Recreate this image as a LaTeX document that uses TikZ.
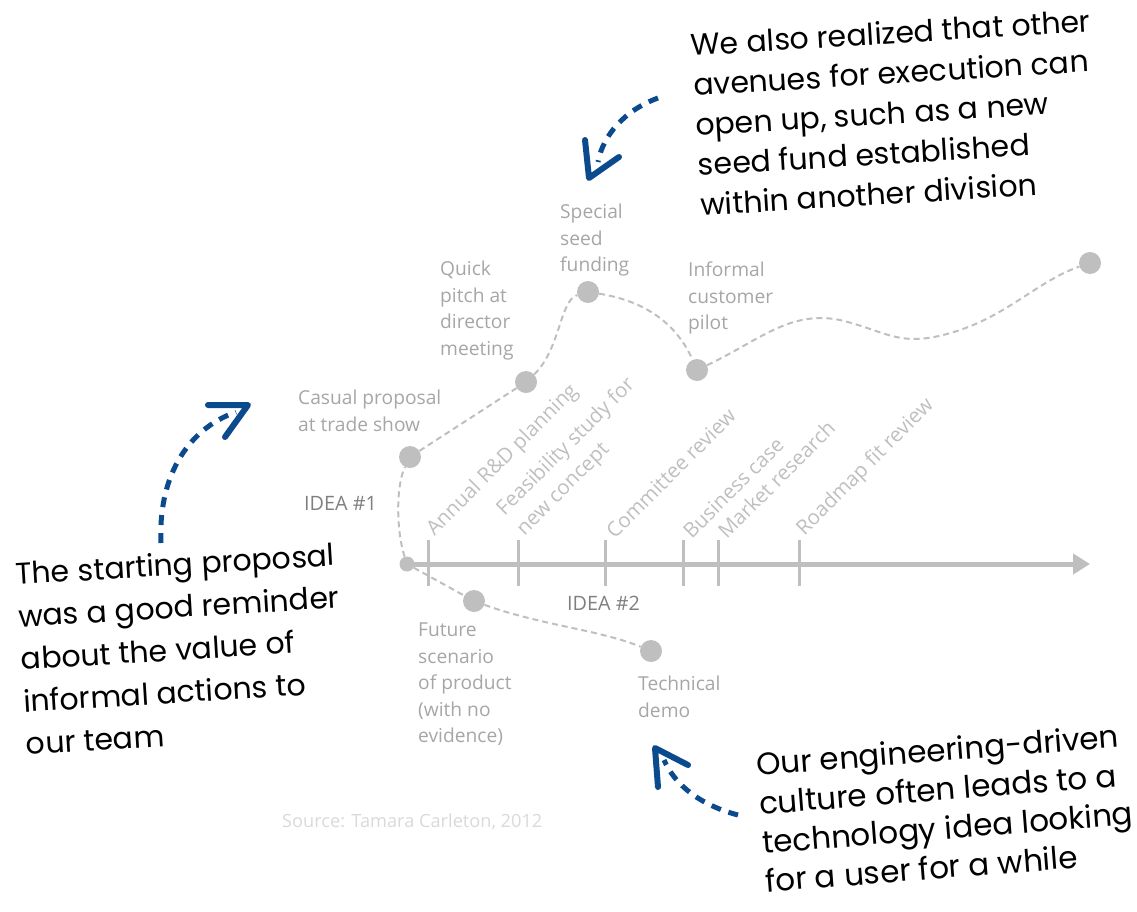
\documentclass[tikz,border=0pt]{standalone}
\usepackage{fontspec}
\setmainfont{Open Sans}
\newfontfamily\hand{Poppins}
\usetikzlibrary{arrows.meta}
\definecolor{lg}{HTML}{BFBFBF}
\definecolor{lbl}{HTML}{A6A6A6}
\definecolor{dk}{HTML}{7F7F7F}
\definecolor{src}{HTML}{D9D9D9}
\definecolor{blu}{HTML}{0B4A8C}
\begin{document}
\begin{tikzpicture}[x=1pt,y=-1pt,
  dot/.style={circle, fill=lg, minimum size=22pt, inner sep=0pt},
  sdot/.style={circle, fill=lg, minimum size=15pt, inner sep=0pt},
  route/.style={lg, line width=2pt, dash pattern=on 6pt off 4pt},
  lbl/.style={text=lbl, font=\fontsize{19.2}{26.5}\selectfont, align=left, inner sep=0pt, anchor=north west},
  idea/.style={text=dk, font=\fontsize{19.8}{24}\selectfont, inner sep=0pt, anchor=north west},
  rlab/.style={text=lg, font=\fontsize{20.5}{28}\selectfont, align=left, inner sep=0pt, rotate=45, anchor=south west},
  note/.style={font=\hand\fontsize{30}{40}\selectfont, align=left, inner sep=0pt, anchor=north west},
  bdash/.style={blu, line width=5pt, dash pattern=on 10pt off 8pt},
  bhead/.style={blu, line width=6pt, line cap=round, line join=round},
  tick/.style={lg, line width=3pt}]
\useasboundingbox (0,0) rectangle (1137,911);

% timeline
\coordinate (ax0) at (408,564);
\coordinate (ax1) at (1090,564);
\draw[lg, line width=5pt, -{Triangle[length=17pt,width=20pt]}] (ax0) -- (ax1);
\foreach \x/\n in {428/a,518/b,605/c,683/d,718/e,799/f}{
  \coordinate (t\n a) at (\x,540);
  \coordinate (t\n b) at (\x,586);
  \draw[tick] (t\n a) -- (t\n b);
}

% rotated labels
\node[rlab] (la) at (438,540) {Annual R\&D planning};
\node[rlab] (lb) at (528,540) {Feasibility study for\\new concept};
\node[rlab] (lc) at (615,540) {Committee review};
\node[rlab] (ld) at (692,540) {Business case};
\node[rlab] (le) at (727,540) {Market research};
\node[rlab] (lf) at (808,540) {Roadmap fit review};

% dots
\node[sdot] (s) at (407,564) {};
\node[dot] (d1) at (410,457) {};
\node[dot] (d2) at (526,382) {};
\node[dot] (d3) at (588,292) {};
\node[dot] (d4) at (697,370) {};
\node[dot] (d5) at (1090,263) {};
\node[dot] (e1) at (474,601) {};
\node[dot] (e2) at (651,651) {};

% idea routes
\draw[route] (s) .. controls (396,530) and (396,485) .. (d1);
\draw[route] (d1) -- (d2);
\draw[route] (d2) .. controls (560,350) and (560,300) .. (d3);
\draw[route] (d3) .. controls (640,300) and (675,320) .. (d4);
\draw[route] (d4) .. controls (760,340) and (790,310) .. (840,320)
   .. controls (890,332) and (900,350) .. (960,330)
   .. controls (1010,313) and (1040,280) .. (d5);
\draw[route] (s) -- (e1);
\draw[route] (e1) .. controls (540,625) and (600,630) .. (e2);

% gray labels
\node[lbl] (c1) at (298,390) {Casual proposal\\at trade show};
\node[lbl] (c2) at (440,261) {Quick\\pitch at\\director\\meeting};
\node[lbl] (c3) at (560,204) {Special\\seed\\funding};
\node[lbl] (c4) at (688,262) {Informal\\customer\\pilot};
\node[lbl] (c5) at (418,623) {Future\\scenario\\of product\\(with no\\evidence)};
\node[lbl] (c6) at (638,676) {Technical\\demo};
\node[idea] (i1) at (304,496) {IDEA \#1};
\node[idea] (i2) at (567,596) {IDEA \#2};
\node[text=src, font=\fontsize{18.2}{22}\selectfont, inner sep=0pt, anchor=north west] (srcn) at (282,813) {Source: Tamara Carleton, 2012};

% handwritten notes
\node[note, rotate=3.5] (n1) at (690,33) {We also realized that other\\avenues for execution can\\open up, such as a new\\seed fund established\\within another division};
\node[note, rotate=3.5, font=\hand\fontsize{30}{42.5}\selectfont] (n2) at (15,562) {The starting proposal\\was a good reminder\\about the value of\\informal actions to\\our team};
\node[note, rotate=4.5, font=\hand\fontsize{31}{39}\selectfont] (n3) at (755,752) {Our engineering-driven\\culture often leads to a\\technology idea looking\\for a user for a while};

% blue arrows
\coordinate (a1s) at (658,98);
\coordinate (a1e) at (598,162);
\coordinate (a1l) at (585,140);
\coordinate (a1t) at (589,178);
\coordinate (a1r) at (619,157);
\draw[bdash] (a1s) .. controls (625,110) and (603,135) .. (a1e);
\draw[bhead] (a1l) -- (a1t) -- (a1r);

\coordinate (a2s) at (161,543);
\coordinate (a2e) at (236,412);
\coordinate (a2l) at (208,405);
\coordinate (a2t) at (248,405);
\coordinate (a2r) at (225,437);
\draw[bdash] (a2s) .. controls (158,480) and (185,430) .. (a2e);
\draw[bhead] (a2l) -- (a2t) -- (a2r);

\coordinate (a3s) at (738,815);
\coordinate (a3e) at (664,760);
\coordinate (a3l) at (658,787);
\coordinate (a3t) at (655,748);
\coordinate (a3r) at (688,765);
\draw[bdash] (a3s) .. controls (700,805) and (675,785) .. (a3e);
\draw[bhead] (a3l) -- (a3t) -- (a3r);
\end{tikzpicture}
\end{document}
